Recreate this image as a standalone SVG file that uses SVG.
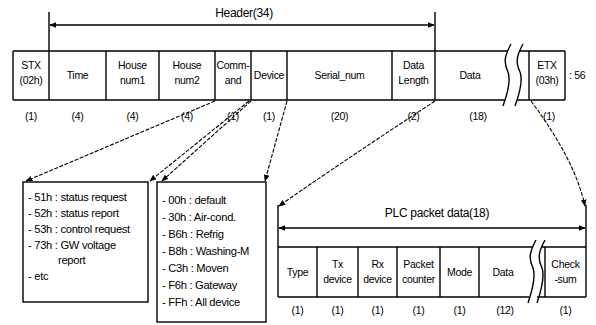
<svg xmlns="http://www.w3.org/2000/svg" width="596" height="325" viewBox="0 0 596 325">
<defs>
<style>
text{font-family:"Liberation Sans",Arial,sans-serif;font-size:10.5px;fill:#000;letter-spacing:-0.3px}
.c{text-anchor:middle}
.t{font-size:12px}
.l{font-size:11.2px}
.ln{fill:none;stroke:#000;stroke-width:1.4}
.cn{fill:none;stroke:#000;stroke-width:1.1;stroke-dasharray:4 1.5}
.bx{fill:#fff;stroke:#000;stroke-width:1.4}
</style>
<marker id="ah" viewBox="0 0 10 10" refX="9" refY="5" markerWidth="7" markerHeight="7" orient="auto-start-reverse" markerUnits="userSpaceOnUse">
<path d="M0,1 L10,5 L0,9 Z" fill="#000"/>
</marker>
</defs>
<rect width="596" height="325" fill="#fff"/>

<g id="header">
<path class="ln" d="M49,12 V51 M435,12 V51"/>
<line class="ln" x1="50" y1="25" x2="434" y2="25" marker-start="url(#ah)" marker-end="url(#ah)"/>
<text class="c t" x="244" y="17">Header(34)</text>
</g>

<g id="frame">
<path class="ln" d="M13,51 H508 M13,100 H505 M520,51 H565 M517,100 H565 M13,51 V100 M49,51 V100 M106,51 V100 M159,51 V100 M215,51 V100 M251,51 V100 M287,51 V100 M392,51 V100 M435,51 V100 M529,51 V100 M565,51 V100"/>
<path class="ln" d="M511,44 C505,55 503,62 508,72 C511,80 507,95 503,106"/>
<path class="ln" d="M523,44 C517,55 515,62 520,72 C523,80 519,95 515,106"/>
<text class="c" x="31" y="69">STX</text><text class="c" x="31" y="84">(02h)</text>
<text class="c" x="77.5" y="79">Time</text>
<text class="c" x="132.5" y="69">House</text><text class="c" x="132.5" y="84">num1</text>
<text class="c" x="187" y="69">House</text><text class="c" x="187" y="84">num2</text>
<text class="c" x="233" y="69">Comm-</text><text class="c" x="233" y="84">and</text>
<text class="c" x="269" y="79">Device</text>
<text class="c" x="339.5" y="79">Serial_num</text>
<text class="c" x="413.5" y="69">Data</text><text class="c" x="413.5" y="84">Length</text>
<text class="c" x="470" y="79">Data</text>
<text class="c" x="547" y="69">ETX</text><text class="c" x="547" y="84">(03h)</text>
<text x="569" y="79">: 56</text>
<text class="c" x="31" y="120">(1)</text>
<text class="c" x="77.5" y="120">(4)</text>
<text class="c" x="132.5" y="120">(4)</text>
<text class="c" x="187" y="120">(4)</text>
<text class="c" x="233" y="120">(1)</text>
<text class="c" x="269" y="120">(1)</text>
<text class="c" x="339.5" y="120">(20)</text>
<text class="c" x="413.5" y="120">(2)</text>
<text class="c" x="478" y="120">(18)</text>
<text class="c" x="549" y="120">(1)</text>
</g>

<g id="connectors">
<line class="cn" x1="215" y1="101" x2="26" y2="181" marker-end="url(#ah)"/>
<line class="cn" x1="249" y1="101" x2="150" y2="181" marker-end="url(#ah)"/>
<line class="cn" x1="251" y1="101" x2="162" y2="181" marker-end="url(#ah)"/>
<line class="cn" x1="287" y1="101" x2="265" y2="181" marker-end="url(#ah)"/>
<path class="cn" d="M435,101 Q330,170 279,206" marker-end="url(#ah)"/>
<path class="cn" d="M531,101 Q575,160 585,206" marker-end="url(#ah)"/>
</g>

<g id="command-codes">
<rect class="bx" x="23" y="182" width="125" height="120"/>
<text class="l" x="28" y="201">- 51h : status request</text>
<text class="l" x="28" y="217">- 52h : status report</text>
<text class="l" x="28" y="233">- 53h : control request</text>
<text class="l" x="28" y="249">- 73h : GW voltage</text>
<text class="l" x="58" y="264">report</text>
<text class="l" x="28" y="280">- etc</text>
</g>

<g id="device-codes">
<rect class="bx" x="157" y="182" width="109" height="140"/>
<text class="l" x="162" y="204">- 00h : default</text>
<text class="l" x="162" y="221">- 30h : Air-cond.</text>
<text class="l" x="162" y="238">- B6h : Refrig</text>
<text class="l" x="162" y="255">- B8h : Washing-M</text>
<text class="l" x="162" y="272">- C3h : Moven</text>
<text class="l" x="162" y="289">- F6h : Gateway</text>
<text class="l" x="162" y="306">- FFh : All device</text>
</g>

<g id="plc-packet">
<path class="ln" d="M278,205 V297 M586,205 V297"/>
<line class="ln" x1="279" y1="228" x2="585" y2="228" marker-start="url(#ah)" marker-end="url(#ah)"/>
<text class="c t" x="437" y="217">PLC packet data(18)</text>
<path class="ln" d="M278,247 H533 M278,297 H529 M541,247 H586 M537,297 H586 M317,247 V297 M358,247 V297 M397,247 V297 M440,247 V297 M479,247 V297 M545,247 V297"/>
<path class="ln" d="M536,240 C530,251 528,258 533,268 C536,276 532,291 528,303"/>
<path class="ln" d="M545,240 C539,251 537,258 542,268 C545,276 541,291 537,303"/>
<text class="c" x="297.5" y="276">Type</text>
<text class="c" x="337.5" y="268">Tx</text><text class="c" x="337.5" y="283">device</text>
<text class="c" x="377.5" y="268">Rx</text><text class="c" x="377.5" y="283">device</text>
<text class="c" x="418.5" y="268">Packet</text><text class="c" x="418.5" y="283">counter</text>
<text class="c" x="459.5" y="276">Mode</text>
<text class="c" x="503" y="276">Data</text>
<text class="c" x="565.5" y="268">Check</text><text class="c" x="565.5" y="283">-sum</text>
<text class="c" x="297.5" y="314">(1)</text>
<text class="c" x="337.5" y="314">(1)</text>
<text class="c" x="377.5" y="314">(1)</text>
<text class="c" x="418.5" y="314">(1)</text>
<text class="c" x="459.5" y="314">(1)</text>
<text class="c" x="505" y="314">(12)</text>
<text class="c" x="565.5" y="314">(1)</text>
</g>
</svg>
